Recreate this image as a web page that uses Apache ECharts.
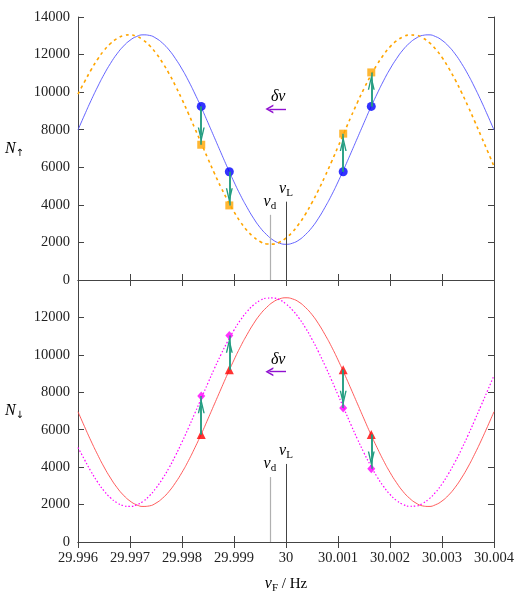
<!DOCTYPE html>
<html>
<head>
<meta charset="utf-8">
<script src="https://cdn.jsdelivr.net/npm/echarts@6/dist/echarts.min.js"></script>
<style>
  html, body { margin: 0; padding: 0; background: #fff; }
  #main { width: 518px; height: 611px; }
</style>
</head>
<body>
<div id="main"></div>
<script>
// frequency axis (Hz) and the curves
const xs = [29.996, 29.996125, 29.99625, 29.996375, 29.9965, 29.996625, 29.99675, 29.996875,
  29.997, 29.997125, 29.99725, 29.997375, 29.9975, 29.997625, 29.99775, 29.997875,
  29.998, 29.998125, 29.99825, 29.998375, 29.9985, 29.998625, 29.99875, 29.998875,
  29.999, 29.999125, 29.99925, 29.999375, 29.9995, 29.999625, 29.99975, 29.999875,
  30, 30.000125, 30.00025, 30.000375, 30.0005, 30.000625, 30.00075, 30.000875,
  30.001, 30.001125, 30.00125, 30.001375, 30.0015, 30.001625, 30.00175, 30.001875,
  30.002, 30.002125, 30.00225, 30.002375, 30.0025, 30.002625, 30.00275, 30.002875,
  30.003, 30.003125, 30.00325, 30.003375, 30.0035, 30.003625, 30.00375, 30.003875, 30.004];
const blueUp = [7990, 8780, 9550, 10270, 10940, 11530, 12040, 12450, 12760, 12960, 13050, 13020, 12870, 12610, 12250, 11780,
  11230, 10600, 9900, 9160, 8370, 7570, 6770, 5980, 5220, 4510, 3870, 3290, 2800, 2420, 2130, 1960, 1900,
  1960, 2130, 2420, 2800, 3290, 3870, 4510, 5220, 5980, 6770, 7570, 8370, 9160, 9900, 10600,
  11230, 11780, 12250, 12610, 12870, 13020, 13050, 12960, 12760, 12450, 12040, 11530, 10940, 10270, 9550, 8780, 7990];
const orangeUp = [9900, 10550, 11180, 11740, 12220, 12590, 12850, 13010, 13050, 12970, 12780, 12480, 12070, 11570, 10990, 10330,
  9610, 8850, 8050, 7250, 6450, 5670, 4930, 4250, 3630, 3090, 2640, 2290, 2050, 1920, 1910, 2010, 2230,
  2560, 2990, 3510, 4120, 4790, 5520, 6290, 7090, 7890, 8690, 9460, 10190, 10860, 11460, 11980,
  12410, 12730, 12940, 13040, 13030, 12890, 12650, 12300, 11850, 11300, 10680, 9990, 9250, 8470, 7670, 6870, 6050];
const redDown = [6960, 6170, 5400, 4680, 4010, 3420, 2910, 2500, 2190, 1990, 1900, 1930, 2080, 2340, 2700, 3170,
  3720, 4350, 5050, 5790, 6580, 7380, 8180, 8970, 9730, 10440, 11080, 11660, 12150, 12530, 12820, 12990, 13050,
  12990, 12820, 12530, 12150, 11660, 11080, 10440, 9730, 8970, 8180, 7380, 6580, 5790, 5050, 4350,
  3720, 3170, 2700, 2340, 2080, 1930, 1900, 1990, 2190, 2500, 2910, 3420, 4010, 4680, 5400, 6170, 6960];
const magentaDown = [5050, 4400, 3770, 3210, 2730, 2360, 2100, 1940, 1900, 1980, 2170, 2470, 2880, 3380, 3960, 4620,
  5340, 6100, 6900, 7700, 8500, 9280, 10020, 10700, 11320, 11860, 12310, 12660, 12900, 13030, 13040, 12940, 12720,
  12390, 11960, 11440, 10830, 10160, 9430, 8660, 7860, 7060, 6260, 5490, 4760, 4090, 3490, 2970,
  2540, 2220, 2010, 1910, 1920, 2060, 2300, 2650, 3100, 3650, 4270, 4960, 5700, 6480, 7280, 8080, 8900];

// probe points
const probeX = [29.99837, 29.99891, 30.0011, 30.00164];
const blueDots = [9240, 5760, 5760, 9240];
const orangeSquares = [7200, 3970, 7790, 11050];
const redTriangles = [5750, 9200, 9200, 5750];
const magentaDiamonds = [7800, 11030, 7160, 3920];

// annotations
const nuD = 29.99969, nuDTop = 3470;
const nuL = 30, nuLTop = 4170;
const shiftY = 9100, shiftFrom = 30, shiftTo = 29.99968;
const shiftLabel = [29.99985, 9750];
const headBack = 520; // pull the arrow head back so its tip sits on the target marker

const serif = 'Liberation Serif';
const rich = {
  n: { fontFamily: serif, fontStyle: 'italic', fontSize: 16, color: '#000', lineHeight: 20 },
  s: { fontFamily: serif, fontSize: 11, color: '#000', padding: [8, 0, 0, 0], lineHeight: 12 },
  a: { fontFamily: 'DejaVu Sans', fontSize: 10, color: '#000', padding: [9, 0, 0, 0], lineHeight: 12 }
};
const chevron = 'path://M0,12 L5,0 L10,12 L8,12 L5,4.5 L2,12 Z';

const pts = (ys) => xs.map((x, i) => [x, ys[i]]);
const probe = (ys) => probeX.map((x, i) => [x, ys[i]]);

const axisLine = { show: true, lineStyle: { color: '#444', width: 1 } };
const tick = { show: true, inside: true, length: 6, lineStyle: { color: '#444' } };
const lbl = { fontFamily: serif, fontSize: 14.5, color: '#222' };

function xAx(grid, pos, showLabel) {
  return {
    type: 'value', gridIndex: grid, position: pos, min: 29.996, max: 30.004, interval: 0.001,
    axisLine, axisTick: tick, splitLine: { show: false },
    axisLabel: Object.assign({ show: showLabel, margin: 9, formatter: v => String(+v.toFixed(3)) }, lbl)
  };
}
function yAx(grid, pos, showLabel, name) {
  return {
    type: 'value', gridIndex: grid, position: pos, min: 0, max: 14000, interval: 2000,
    axisLine, axisTick: tick, splitLine: { show: false },
    axisLabel: Object.assign({ show: showLabel, margin: 8, showMaxLabel: grid === 0, formatter: v => String(v) }, lbl),
    name: name || '', nameLocation: 'middle', nameRotate: 0, nameGap: 54,
    nameTextStyle: { rich }
  };
}

function vLines() {
  return {
    silent: true, symbol: ['none', 'none'], animation: false,
    data: [
      [{ coord: [nuD, 0], lineStyle: { color: '#b0b0b0', width: 1.2, type: 'solid' },
         label: { show: true, position: 'end', distance: 3, formatter: '{n|ν}{s|d}', rich } },
       { coord: [nuD, nuDTop] }],
      [{ coord: [nuL, 0], lineStyle: { color: '#444', width: 1, type: 'solid' },
         label: { show: true, position: 'end', distance: 3, formatter: '{n|ν}{s|L}', rich } },
       { coord: [nuL, nuLTop] }]
    ]
  };
}
function shiftArrow() {
  return {
    silent: true, symbol: ['none', chevron], symbolSize: [9, 8], animation: false,
    lineStyle: { color: '#9010d0', width: 1.4, type: 'solid' }, label: { show: false },
    data: [[{ coord: [shiftFrom, shiftY] }, { coord: [shiftTo, shiftY] }]]
  };
}
function shiftText() {
  return {
    silent: true, symbol: 'circle', symbolSize: 0, animation: false,
    label: { show: true, position: 'inside', formatter: '{n|δν}', rich },
    data: [{ coord: shiftLabel }]
  };
}
function probeArrows(from, to) {
  const shafts = probeX.map((x, i) => [
    { coord: [x, from[i]], symbol: 'none' },
    { coord: [x, to[i]], symbol: 'none' }
  ]);
  const heads = probeX.map((x, i) => {
    const dir = to[i] > from[i] ? 1 : -1;
    return [
      { coord: [x, from[i]], symbol: 'none' },
      { coord: [x, to[i] - dir * headBack], symbol: chevron, symbolSize: [7, 15] }
    ];
  });
  return {
    silent: true, animation: false, z: 6,
    lineStyle: { color: '#229c80', width: 1.5, type: 'solid' }, label: { show: false },
    data: shafts.concat(heads)
  };
}

const chart = echarts.init(document.getElementById('main'));
const option = {
  animation: false,
  backgroundColor: '#fff',
  grid: [
    { left: 78, width: 416, top: 17, height: 263 },
    { left: 78, width: 416, top: 280, height: 262 }
  ],
  xAxis: [
    xAx(0, 'bottom', false), xAx(0, 'top', false),
    Object.assign(xAx(1, 'bottom', true), {
      name: '{n|ν}{s|F}{t| / Hz}', nameLocation: 'middle', nameGap: 32,
      nameTextStyle: { rich: Object.assign({ t: { fontFamily: serif, fontSize: 15, color: '#000', lineHeight: 20 } }, rich) }
    }),
    xAx(1, 'top', false)
  ],
  yAxis: [
    yAx(0, 'left', true, '{n|N}{a|↑}'), yAx(0, 'right', false),
    yAx(1, 'left', true, '{n|N}{a|↓}'), yAx(1, 'right', false)
  ],
  series: [
    { type: 'line', xAxisIndex: 0, yAxisIndex: 0, data: pts(blueUp), smooth: true, showSymbol: false,
      lineStyle: { color: '#5252ff', width: 0.9 }, markLine: vLines() },
    { type: 'line', xAxisIndex: 0, yAxisIndex: 0, data: pts(orangeUp), smooth: true, showSymbol: false,
      lineStyle: { color: '#ffa500', width: 1.6, type: [3, 3.5] }, markLine: shiftArrow(), markPoint: shiftText() },
    { type: 'scatter', xAxisIndex: 0, yAxisIndex: 0, data: probe(blueDots), symbol: 'circle', symbolSize: 9,
      itemStyle: { color: '#0000ff' }, z: 3 },
    { type: 'scatter', xAxisIndex: 0, yAxisIndex: 0, data: probe(orangeSquares), symbol: 'rect', symbolSize: 8,
      itemStyle: { color: '#ffa500' }, z: 3, markLine: probeArrows(blueDots, orangeSquares) },

    { type: 'line', xAxisIndex: 2, yAxisIndex: 2, data: pts(redDown), smooth: true, showSymbol: false,
      lineStyle: { color: '#ff4a4a', width: 0.9 }, markLine: vLines() },
    { type: 'line', xAxisIndex: 2, yAxisIndex: 2, data: pts(magentaDown), smooth: true, showSymbol: false,
      lineStyle: { color: '#ff00ff', width: 1.2, type: [1.5, 2] }, markLine: shiftArrow(), markPoint: shiftText() },
    { type: 'scatter', xAxisIndex: 2, yAxisIndex: 2, data: probe(redTriangles), symbol: 'triangle', symbolSize: 9,
      itemStyle: { color: '#ff0000' }, z: 3 },
    { type: 'scatter', xAxisIndex: 2, yAxisIndex: 2, data: probe(magentaDiamonds), symbol: 'diamond', symbolSize: [8, 9],
      itemStyle: { color: '#ff00ff' }, z: 3, markLine: probeArrows(redTriangles, magentaDiamonds) }
  ]
};
option && chart.setOption(option);
</script>
</body>
</html>
